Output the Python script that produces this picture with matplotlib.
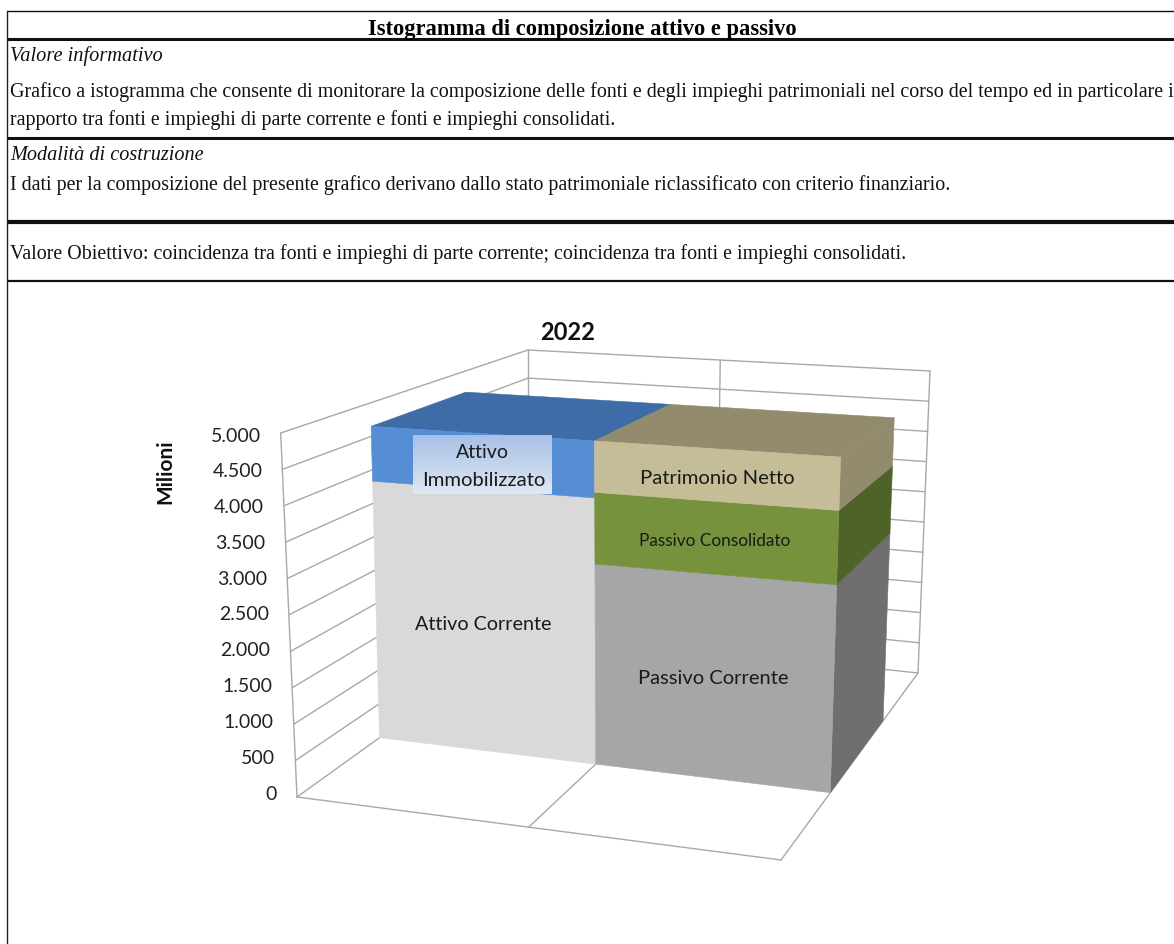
import numpy as np
import matplotlib
matplotlib.use("Agg")
import matplotlib.pyplot as plt
from matplotlib.patches import Polygon

# ---- data ----
year = "2022"
axis_title = "Milioni"
tick_values = [0, 500, 1000, 1500, 2000, 2500, 3000, 3500, 4000, 4500, 5000]
tick_labels = ["0", "500", "1.000", "1.500", "2.000", "2.500", "3.000", "3.500", "4.000", "4.500", "5.000"]
attivo_names = ["Attivo Corrente", "Attivo Immobilizzato"]
attivo_values = [3830, 820]
passivo_names = ["Passivo Corrente", "Passivo Consolidato", "Patrimonio Netto"]
passivo_values = [2880, 1030, 740]

title_txt = "Istogramma di composizione attivo e passivo"
rows = [
    ("Valore informativo", 54, 162, "italic"),
    ("Grafico a istogramma che consente di monitorare la composizione delle fonti e degli impieghi patrimoniali nel corso del tempo ed in particolare i", 90, 1172, "normal"),
    ("rapporto tra fonti e impieghi di parte corrente e fonti e impieghi consolidati.", 118, 615, "normal"),
    ("Modalità di costruzione", 154, 203, "italic"),
    ("I dati per la composizione del presente grafico derivano dallo stato patrimoniale riclassificato con criterio finanziario.", 183, 950, "normal"),
    ("Valore Obiettivo: coincidenza tra fonti e impieghi di parte corrente; coincidenza tra fonti e impieghi consolidati.", 252, 906, "normal"),
]

# ---- scene geometry (pixel corners of the 3D box) ----
FLOOR = [(297, 797), (781, 860), (918, 673), (528, 631)]
TOP = [(280.7, 433), (790, 467), (930, 371), (528, 350)]
D0, D1 = 0.306, 0.696
X_MID = 0.985
VMAX = 5000.0
GRID = "#a8a8a8"


def homography(dst):
    src = [(0, 0), (2, 0), (2, 1), (0, 1)]
    A, b = [], []
    for (x, y), (u, v) in zip(src, dst):
        A.append([x, y, 1, 0, 0, 0, -u * x, -u * y]); b.append(u)
        A.append([0, 0, 0, x, y, 1, -v * x, -v * y]); b.append(v)
    h = np.linalg.solve(np.array(A, float), np.array(b, float))
    return np.append(h, 1).reshape(3, 3)


HF, HT = homography(FLOOR), homography(TOP)


def proj(x, d, v):
    def ap(H):
        p = H @ np.array([x, d, 1.0])
        return p[:2] / p[2]
    return tuple(ap(HF) + (ap(HT) - ap(HF)) * v / VMAX)


fig = plt.figure(figsize=(11.74, 9.44), dpi=100)
ax = fig.add_axes([0, 0, 1, 1])
ax.axis("off")

def line3d(a, b, z=1):
    pa, pb = proj(*a), proj(*b)
    ax.plot([pa[0], pb[0]], [pa[1], pb[1]], color=GRID, lw=1.0, zorder=z, solid_capstyle="round")

def face(pts, color, z=3):
    ax.add_patch(Polygon([proj(*p) for p in pts], closed=True, facecolor=color, edgecolor=color, lw=0.4, zorder=z))

# walls and floor
for v in tick_values:
    line3d((0, 0, v), (0, 1, v))
    line3d((0, 1, v), (2, 1, v))
for x, d in [(0, 0), (0, 1), (X_MID, 1), (2, 1)]:
    line3d((x, d, 0), (x, d, VMAX))
for a, b in [((0, 0, 0), (2, 0, 0)), ((2, 0, 0), (2, 1, 0)), ((X_MID, 0, 0), (X_MID, 1, 0))]:
    line3d(a, b)

# bars
FRONT = {"Attivo Corrente": "#d9d9d9", "Attivo Immobilizzato": "#558ed5", "Passivo Corrente": "#a6a6a6",
         "Passivo Consolidato": "#76923c", "Patrimonio Netto": "#c4bd97"}
SIDE = {"Passivo Corrente": "#6f6f6f", "Passivo Consolidato": "#4f6228", "Patrimonio Netto": "#938b6e"}
TOPC = {"Attivo Immobilizzato": "#3d6ca6", "Patrimonio Netto": "#938b6e"}

for x0, x1, names, values in [(0, X_MID, attivo_names, attivo_values), (X_MID, 2, passivo_names, passivo_values)]:
    edges = np.concatenate([[0], np.cumsum(values)])
    for name, lo, hi in zip(names, edges[:-1], edges[1:]):
        if name in SIDE:
            face([(x1, D0, lo), (x1, D1, lo), (x1, D1, hi), (x1, D0, hi)], SIDE[name])
        face([(x0, D0, lo), (x1, D0, lo), (x1, D0, hi), (x0, D0, hi)], FRONT[name], z=4)
    tn, t = names[-1], edges[-1]
    face([(x0, D0, t), (x1, D0, t), (x1, D1, t), (x0, D1, t)], TOPC[tn])

# label box with gradient
grad = np.linspace(0, 1, 64).reshape(-1, 1)
c0, c1 = np.array([0.66, 0.75, 0.90]), np.array([0.87, 0.91, 0.96])
img = (c0 + (c1 - c0) * grad[..., None])
ax.imshow(img, extent=(413, 552, 494, 435), aspect="auto", zorder=5)

LAB = "Lato"
lab = dict(family=LAB, color="#1a1a1a", ha="center", va="center", zorder=6)
ax.text(482, 452, "Attivo", fontsize=14, **lab)
ax.text(484, 480, "Immobilizzato", fontsize=14.6, **lab)
ax.text(483, 624, attivo_names[0], fontsize=14.2, **lab)
ax.text(713, 679, passivo_names[0], fontsize=14.5, **lab)
ax.text(715, 541, passivo_names[1], fontsize=12.4, **lab)
ax.text(717, 479, passivo_names[2], fontsize=14.6, **lab)

# axis labels
for v, s in zip(tick_values, tick_labels):
    fx, fy = proj(0, 0, v)
    ax.text(fx - 20, 794 - 0.0716 * v, s, family=LAB, fontsize=14, color="#222222", ha="right", va="center", zorder=6)
ax.text(165, 472, axis_title, family=LAB, fontsize=15, fontweight="bold", rotation=90, ha="center", va="center", color="#111111")
ax.text(568, 332, year, family=LAB, fontsize=17, fontweight="bold", ha="center", va="center", color="#111111")

# table
for y, lw in [(11, 1.0), (39, 2.2), (138, 2.2), (222, 3.0), (281, 1.6)]:
    ax.plot([7, 1174], [y, y], color="#111111", lw=lw, zorder=7, solid_capstyle="butt")
ax.plot([7, 7], [11, 944], color="#222222", lw=1.0, zorder=7)

ax.set_xlim(0, 1174)
ax.set_ylim(944, 0)

# table text, sized to the reference line widths
SER = "Liberation Serif"
fig.canvas.draw()
rend = fig.canvas.get_renderer()

def fit(t, width):
    w = t.get_window_extent(rend).width
    t.set_fontsize(t.get_fontsize() * width / w)

t = ax.text(368, 29, title_txt, family=SER, fontweight="bold", fontsize=11, va="center", ha="left", color="black", zorder=8)
fit(t, 429)
for txt, y, xend, style in rows:
    t = ax.text(10, y + 2, txt, family=SER, style=style, fontsize=11, va="center", ha="left", color="#111111", zorder=8)
    fit(t, xend - 10)

fig.savefig("out.png", dpi=100)
